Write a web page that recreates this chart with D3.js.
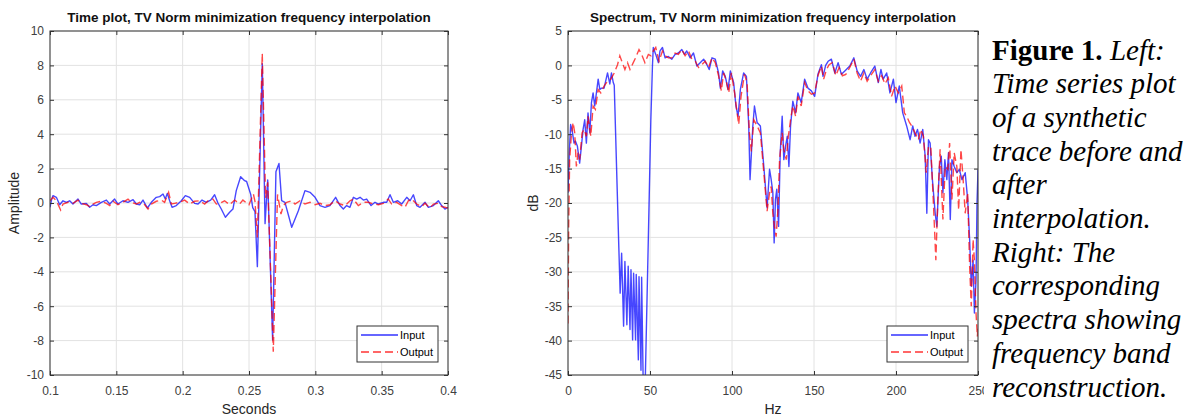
<!DOCTYPE html>
<html>
<head>
<meta charset="utf-8">
<script src="https://cdn.jsdelivr.net/npm/d3@7"></script>
<style>
  body { margin: 0; background: #fff; }
  svg { display: block; }
</style>
</head>
<body>
<svg id="fig" width="1190" height="418"></svg>
<script>
// tick values
const timeTicks = [0.1, 0.15, 0.2, 0.25, 0.3, 0.35, 0.4];
const ampTicks = [-10, -8, -6, -4, -2, 0, 2, 4, 6, 8, 10];
const freqTicks = [0, 50, 100, 150, 200, 250];
const dbTicks = [-45, -40, -35, -30, -25, -20, -15, -10, -5, 0, 5];

// time trace, [seconds, amplitude]
const inputTrace = [
  [0.1, -0.25], [0.1012, 0.2], [0.1023, 0.43], [0.1048, 0.33], [0.1073, -0.1], [0.1098, 0.13],
  [0.1123, 0.04], [0.1148, 0.13], [0.1173, -0.06], [0.1211, 0.23], [0.1236, -0.06], [0.1274, -0.02],
  [0.1299, -0.25], [0.1324, -0.1], [0.1349, -0.15], [0.1387, 0.04], [0.1425, 0.17], [0.145, -0.06],
  [0.1487, 0.23], [0.1512, -0.06], [0.155, 0.13], [0.1588, 0.04], [0.1626, 0.19], [0.1651, -0.06],
  [0.1676, -0.1], [0.1701, 0.17], [0.1734, -0.29], [0.1764, 0.04], [0.1801, 0.33], [0.1827, 0.37],
  [0.1852, 0.52], [0.1869, 0.23], [0.1884, 0.56], [0.1902, 0.13], [0.192, -0.25], [0.1952, -0.15],
  [0.199, 0.13], [0.202, 0.43], [0.2053, 0.33], [0.209, -0.02], [0.2116, -0.06], [0.2146, 0.17],
  [0.2178, 0.04], [0.2211, 0.17], [0.2241, 0.48], [0.2266, 0.0], [0.2291, -0.35], [0.2322, -0.83],
  [0.2354, -0.54], [0.2379, -0.35], [0.2404, 0.72], [0.2437, 1.53], [0.2467, 1.3], [0.2482, 1.25],
  [0.2513, 0.5], [0.2528, -0.27], [0.2545, -0.5], [0.2563, -3.7], [0.26, 8.1], [0.2621, -1.2],
  [0.2641, 1.34], [0.2678, -7.97], [0.2703, 1.82], [0.2726, 2.3], [0.2746, 0.14], [0.2771, 0.04],
  [0.2822, -1.41], [0.2872, -0.45], [0.2922, 0.72], [0.296, 0.62], [0.2998, 0.33], [0.3035, -0.15],
  [0.3073, -0.25], [0.311, -0.15], [0.3153, 0.33], [0.3186, -0.15], [0.3211, -0.35], [0.3236, -0.15],
  [0.3261, -0.25], [0.3287, 0.33], [0.3312, 0.23], [0.3337, 0.33], [0.3362, 0.17], [0.3387, 0.23],
  [0.342, -0.15], [0.345, 0.04], [0.3475, -0.06], [0.3513, 0.04], [0.3538, 0.04], [0.3563, 0.48],
  [0.3588, 0.04], [0.3621, 0.13], [0.3651, -0.06], [0.3689, 0.33], [0.3714, 0.13], [0.3739, 0.48],
  [0.3764, -0.15], [0.3789, -0.25], [0.3827, 0.04], [0.3852, -0.25], [0.389, -0.15], [0.3927, 0.13],
  [0.3952, -0.15], [0.3977, -0.35], [0.4, -0.25]
];

const outputTrace = [
  [0.1, 0.13], [0.1023, 0.33], [0.1048, 0.13], [0.108, -0.41], [0.1098, -0.06], [0.1136, 0.04],
  [0.1173, -0.02], [0.1211, 0.17], [0.1236, -0.02], [0.1274, -0.1], [0.1299, -0.21], [0.1324, -0.06],
  [0.1349, 0.04], [0.1387, 0.1], [0.1425, -0.02], [0.145, -0.15], [0.1475, 0.1], [0.1512, -0.1],
  [0.155, 0.04], [0.1588, 0.23], [0.1613, 0.04], [0.1651, -0.06], [0.1676, 0.04], [0.1714, -0.1],
  [0.1739, -0.35], [0.1764, -0.06], [0.1801, 0.1], [0.1839, 0.17], [0.1864, 0.04], [0.1894, 0.62],
  [0.1915, -0.06], [0.194, -0.02], [0.1977, 0.04], [0.2015, 0.17], [0.2053, -0.06], [0.209, 0.1],
  [0.2128, 0.13], [0.2166, -0.06], [0.2191, 0.13], [0.2228, 0.23], [0.2254, -0.06], [0.2279, -0.02],
  [0.2316, 0.13], [0.2354, -0.1], [0.2392, 0.17], [0.2429, -0.06], [0.2454, 0.17], [0.2492, -0.06],
  [0.25, -0.1], [0.2533, 0.52], [0.2545, 0.1], [0.2563, -2.0], [0.26, 8.7], [0.2625, 0.3],
  [0.2641, 1.2], [0.2683, -8.65], [0.2715, 0.5], [0.2741, -0.64], [0.2759, -0.15], [0.2784, 0.04],
  [0.2822, 0.13], [0.2847, -0.06], [0.2884, 0.13], [0.2922, -0.06], [0.296, 0.04], [0.2998, -0.1],
  [0.3035, -0.02], [0.3073, -0.15], [0.311, -0.1], [0.3148, 0.13], [0.3186, -0.06], [0.3224, -0.15],
  [0.3261, 0.13], [0.3287, 0.23], [0.3324, -0.15], [0.3362, 0.04], [0.34, 0.04], [0.3437, -0.06],
  [0.3475, -0.1], [0.3513, -0.02], [0.355, 0.23], [0.3575, -0.06], [0.3613, 0.04], [0.3651, -0.15],
  [0.3676, -0.25], [0.3701, 0.13], [0.3726, 0.23], [0.3764, -0.06], [0.3802, -0.21], [0.3827, -0.02],
  [0.3864, -0.29], [0.389, -0.06], [0.3927, -0.02], [0.3952, -0.21], [0.3977, -0.25], [0.4, -0.3]
];

// spectrum, [Hz, dB]
const inputSpectrum = [
  [0, -18.5], [0.8, -12.7], [1.6, -8.6], [2.4, -9.3], [3.7, -11.3], [4.5, -11.0], [5.7, -11.7],
  [7.1, -14.2], [8.2, -11.7], [9.2, -9.3], [10.2, -7.9], [11.2, -11.3], [12.2, -6.9], [13.3, -9.8],
  [14.3, -5.4], [15.3, -4.0], [16.3, -5.9], [18.4, -2.0], [19.4, -3.5], [20.4, -3.3], [22.0, -3.3],
  [24.1, -1.1], [25.5, -2.7], [26.5, -1.1], [27.6, -2.5], [28.2, -2.9], [31.0, -26.5], [31.8, -33.1],
  [32.7, -27.3], [33.9, -37.9], [34.7, -28.5], [35.9, -37.7], [36.7, -29.2], [37.8, -38.4],
  [38.4, -29.7], [39.4, -39.9], [40.0, -30.2], [41.2, -39.9], [41.6, -30.4], [42.9, -42.8],
  [43.3, -30.7], [44.5, -44.3], [44.9, -30.8], [45.9, -47], [47.0, -47], [49.0, -25], [50.5, -8],
  [51.5, 0], [52.0, 2.6], [53.5, 1.6], [55.1, 0.4], [56.1, 2.1], [57.6, 2.6], [59.2, 1.1],
  [61.2, 1.3], [63.3, 0.9], [65.3, 1.6], [67.3, 1.8], [69.4, 2.3], [71.0, 1.6], [72.4, 2.1],
  [74.5, 1.1], [76.5, 1.8], [78.6, -0.1], [80.6, 0.4], [82.7, 0.9], [84.7, 0.1], [86.1, -0.6],
  [87.8, 1.1], [89.8, 0.9], [91.8, -1.1], [92.9, -3.3], [94.3, -0.8], [95.9, -1.6], [97.6, -3.5],
  [99.0, -0.8], [101.0, -2.5], [102.4, -5.9], [103.7, -7.4], [105.1, -3.5], [107.1, -1.1],
  [108.8, -1.6], [110.2, -8.8], [111.0, -16.6], [112.7, -8.8], [113.7, -5.9], [115.3, -8.3],
  [117.3, -8.8], [119.4, -14.7], [121.4, -20.7], [122.9, -15.1], [123.9, -16.6], [124.9, -18.5],
  [125.7, -25.8], [126.5, -19.5], [127.3, -18.0], [128.4, -23.4], [129.4, -12.7], [130.6, -7.4],
  [131.6, -13.7], [132.7, -11.7], [133.7, -10.3], [134.7, -14.7], [135.7, -8.8], [137.1, -5.2],
  [138.8, -6.9], [140.2, -4.0], [142.2, -5.4], [144.3, -2.0], [146.3, -3.3], [148.4, -3.7],
  [150.4, -4.5], [152.4, -1.3], [154.5, 0.1], [155.5, -1.6], [157.1, 0.0], [158.6, 0.6],
  [160.6, 0.9], [162.7, -1.1], [164.7, 0.4], [166.7, -1.3], [168.8, -0.8], [171.8, -0.1],
  [174.3, 1.1], [176.3, -0.8], [178.4, -1.6], [180.4, -0.6], [182.4, -2.0], [184.5, -1.1],
  [187.1, -0.1], [189.2, -2.5], [190.8, -0.6], [192.2, -2.0], [194.3, -1.1], [196.3, -4.0],
  [198.4, -2.0], [200.0, -5.4], [202.0, -3.0], [204.1, -6.9], [206.5, -8.8], [208.6, -10.8],
  [210.2, -8.8], [211.6, -10.3], [213.1, -9.3], [214.7, -11.3], [216.3, -9.3], [217.8, -13.2],
  [218.8, -21.5], [219.8, -10.8], [220.8, -11.3], [222.2, -16.6], [223.9, -21.5], [224.9, -23.4],
  [226.5, -14.7], [227.6, -13.2], [228.6, -18.5], [229.8, -13.7], [231.0, -16.6], [232.0, -12.7],
  [233.1, -22.4], [234.1, -13.7], [235.5, -14.7], [237.1, -15.6], [238.6, -15.1], [240.2, -16.6],
  [242.2, -15.6], [243.7, -19.5], [244.9, -25.3], [245.9, -32.1], [247.0, -28.3], [247.8, -36.0],
  [248.8, -31.2], [249.4, -20], [250, -15.2]
];

const outputSpectrum = [
  [0, -37.5], [0.4, -23.4], [1.0, -13.7], [2.0, -10.3], [3.1, -8.3], [4.1, -9.8], [5.1, -14.7],
  [6.1, -12.7], [7.1, -13.7], [8.6, -9.8], [9.8, -9.3], [11.2, -10.3], [12.2, -7.4], [13.9, -10.3],
  [15.3, -5.9], [16.7, -6.4], [18.4, -3.5], [20.0, -4.0], [22.0, -3.0], [24.1, -2.3], [26.1, -2.0],
  [28.2, -1.1], [30.2, 0.1], [31.6, 1.4], [33.1, 0.4], [34.7, -0.6], [36.3, 0.4], [37.8, -0.6],
  [39.8, 0.4], [41.2, 1.1], [43.3, 2.3], [44.9, 1.6], [46.9, 0.4], [49.0, 1.6], [50.6, 1.4],
  [52.0, 2.1], [53.5, 2.6], [55.5, 0.6], [57.6, 2.1], [59.2, 1.4], [61.2, 1.1], [63.3, 1.1],
  [65.3, 1.8], [67.3, 1.6], [69.4, 2.3], [71.4, 1.4], [73.5, 2.1], [75.5, 0.9], [77.6, 0.6],
  [79.6, -0.3], [81.6, 0.1], [83.7, 0.6], [85.7, -0.3], [87.8, 1.1], [89.8, 0.4], [91.8, -1.5],
  [93.5, -3.7], [94.9, -1.1], [96.5, -2.3], [98.0, -4.0], [99.6, -1.1], [101.6, -4.0], [103.1, -6.9],
  [104.1, -8.6], [105.5, -4.5], [107.6, -1.3], [109.2, -2.5], [110.6, -9.8], [111.8, -12.5],
  [113.3, -7.9], [115.3, -8.8], [117.3, -9.8], [119.4, -15.6], [121.4, -21.2], [122.9, -18.5],
  [123.9, -17.6], [124.9, -21.5], [125.9, -23.4], [126.9, -24.9], [128.0, -21.0], [129.0, -13.7],
  [130.6, -9.8], [131.6, -12.2], [133.1, -13.7], [134.1, -10.8], [135.7, -7.9], [137.1, -5.9],
  [138.8, -7.4], [140.2, -4.5], [142.2, -5.9], [144.3, -2.5], [146.3, -3.7], [148.4, -4.2],
  [150.4, -4.0], [152.4, -1.5], [154.5, -0.1], [155.9, -2.0], [157.6, -0.6], [159.2, 0.1],
  [161.2, 0.4], [163.3, -1.5], [165.3, -0.3], [167.3, -1.5], [169.4, -1.3], [171.8, -0.3],
  [174.3, 0.9], [176.3, -1.1], [178.4, -2.3], [180.4, -1.1], [182.4, -2.3], [184.5, -1.5],
  [187.1, -0.6], [189.2, -2.3], [191.2, -1.5], [193.3, -2.7], [195.3, -1.8], [197.3, -4.5],
  [199.4, -3.0], [201.4, -4.0], [203.5, -3.0], [205.1, -6.9], [206.5, -7.4], [208.2, -8.3],
  [209.6, -8.8], [211.6, -9.8], [213.7, -10.8], [215.1, -9.3], [216.7, -10.3], [218.4, -15.6],
  [219.8, -11.8], [221.2, -11.8], [222.9, -20.5], [224.3, -28.3], [225.5, -19.5], [226.9, -12.2],
  [228.6, -22.4], [230.0, -14.7], [231.6, -15.1], [232.7, -11.3], [234.1, -19.5], [235.5, -12.7],
  [237.1, -14.7], [238.2, -21.0], [239.6, -12.2], [240.8, -16.1], [242.2, -21.5], [243.7, -18.5],
  [244.9, -29.2], [245.9, -35.0], [247.0, -25.3], [247.8, -28.3], [248.8, -36.0], [249.6, -39.4],
  [250, -38]
];

const seriesNames = ['Input', 'Output'];
const captionLines = [
  [['Figure 1.', 'bold'], [' Left:', 'italic']],
  [['Time series plot', 'italic']],
  [['of a synthetic', 'italic']],
  [['trace before and', 'italic']],
  [['after', 'italic']],
  [['interpolation.', 'italic']],
  [['Right: The', 'italic']],
  [['corresponding', 'italic']],
  [['spectra showing', 'italic']],
  [['frequency band', 'italic']],
  [['reconstruction.', 'italic']]
];

const sans = '"Liberation Sans", Arial, Helvetica, sans-serif';
const axisColor = '#333333';
const gridColor = '#e2e2e2';

const svg = d3.select('#fig');

function drawPanel(cfg, idx) {
  const x = d3.scaleLinear().domain(cfg.xDomain).range([cfg.left, cfg.right]);
  const y = d3.scaleLinear().domain(cfg.yDomain).range([cfg.bottom, cfg.top]);
  const g = svg.append('g');

  // grid
  g.append('g').selectAll('line').data(cfg.xTicks).join('line')
    .attr('x1', (d) => x(d)).attr('x2', (d) => x(d))
    .attr('y1', cfg.top).attr('y2', cfg.bottom)
    .attr('stroke', gridColor).attr('stroke-width', 1);
  g.append('g').selectAll('line').data(cfg.yTicks).join('line')
    .attr('y1', (d) => y(d)).attr('y2', (d) => y(d))
    .attr('x1', cfg.left).attr('x2', cfg.right)
    .attr('stroke', gridColor).attr('stroke-width', 1);

  // traces
  const clipId = 'clip' + idx;
  svg.append('clipPath').attr('id', clipId)
    .append('rect')
    .attr('x', cfg.left).attr('y', cfg.top)
    .attr('width', cfg.right - cfg.left).attr('height', cfg.bottom - cfg.top);

  const line = d3.line().x((d) => x(d[0])).y((d) => y(d[1]));
  const plot = g.append('g').attr('clip-path', `url(#${clipId})`);

  plot.append('path')
    .datum(cfg.input)
    .attr('d', line)
    .attr('fill', 'none')
    .attr('stroke', '#0000ff')
    .attr('stroke-opacity', 0.72)
    .attr('stroke-width', 1.4)
    .attr('stroke-linejoin', 'round');

  plot.append('path')
    .datum(cfg.output)
    .attr('d', line)
    .attr('fill', 'none')
    .attr('stroke', '#ff0000')
    .attr('stroke-opacity', 0.72)
    .attr('stroke-width', 1.4)
    .attr('stroke-dasharray', '8,4');

  // axes, ticks on all four sides pointing in
  const fmt = (d) => String(d);
  const styleAxis = (a) => {
    a.select('.domain').remove();
    a.selectAll('.tick line').attr('stroke', axisColor);
    a.selectAll('.tick text')
      .attr('fill', '#404040')
      .style('font-family', sans)
      .style('font-size', '12px');
  };
  g.append('g')
    .attr('transform', `translate(0,${cfg.bottom})`)
    .call(d3.axisBottom(x).tickValues(cfg.xTicks).tickFormat(fmt).tickSizeInner(-4).tickSizeOuter(0).tickPadding(11))
    .call(styleAxis);
  g.append('g')
    .attr('transform', `translate(0,${cfg.top})`)
    .call(d3.axisTop(x).tickValues(cfg.xTicks).tickFormat('').tickSizeInner(-4).tickSizeOuter(0))
    .call(styleAxis);
  g.append('g')
    .attr('transform', `translate(${cfg.left},0)`)
    .call(d3.axisLeft(y).tickValues(cfg.yTicks).tickFormat(fmt).tickSizeInner(-4).tickSizeOuter(0).tickPadding(6))
    .call(styleAxis);
  g.append('g')
    .attr('transform', `translate(${cfg.right},0)`)
    .call(d3.axisRight(y).tickValues(cfg.yTicks).tickFormat('').tickSizeInner(-4).tickSizeOuter(0))
    .call(styleAxis);

  g.append('rect')
    .attr('x', cfg.left).attr('y', cfg.top)
    .attr('width', cfg.right - cfg.left).attr('height', cfg.bottom - cfg.top)
    .attr('fill', 'none').attr('stroke', axisColor).attr('stroke-width', 1);

  // labels
  const cx = (cfg.left + cfg.right) / 2;
  const cy = (cfg.top + cfg.bottom) / 2;
  g.append('text')
    .attr('x', cx).attr('y', 22)
    .attr('text-anchor', 'middle')
    .style('font-family', sans).style('font-size', '13.5px').style('font-weight', 'bold')
    .attr('fill', '#111')
    .text(cfg.title);
  g.append('text')
    .attr('x', cx).attr('y', 414)
    .attr('text-anchor', 'middle')
    .style('font-family', sans).style('font-size', '14px')
    .attr('fill', '#262626')
    .text(cfg.xLabel);
  g.append('text')
    .attr('transform', `translate(${cfg.yLabelX},${cy}) rotate(-90)`)
    .attr('text-anchor', 'middle')
    .style('font-family', sans).style('font-size', '14px')
    .attr('fill', '#262626')
    .text(cfg.yLabel);

  // legend
  const lw = 81, lh = 36;
  const lx = cfg.right - 10 - lw, ly = cfg.bottom - 13 - lh;
  const leg = g.append('g').attr('transform', `translate(${lx},${ly})`);
  leg.append('rect')
    .attr('width', lw).attr('height', lh)
    .attr('fill', '#fff').attr('stroke', axisColor).attr('stroke-width', 1);
  const rows = leg.selectAll('g.row').data(seriesNames).join('g')
    .attr('class', 'row')
    .attr('transform', (d, i) => `translate(0,${9 + i * 17})`);
  rows.append('line')
    .attr('x1', 4).attr('x2', 41)
    .attr('stroke', (d, i) => (i === 0 ? '#0000ff' : '#ff0000'))
    .attr('stroke-opacity', 0.8)
    .attr('stroke-width', 1.4)
    .attr('stroke-dasharray', (d, i) => (i === 0 ? null : '8,4'));
  rows.append('text')
    .attr('x', 43).attr('y', 4)
    .style('font-family', sans).style('font-size', '11px')
    .attr('fill', '#000')
    .text((d) => d);
}

drawPanel({
  left: 50, right: 448, top: 31, bottom: 375, yLabelX: 19,
  xDomain: [0.1, 0.4], yDomain: [-10, 10],
  xTicks: timeTicks, yTicks: ampTicks,
  input: inputTrace, output: outputTrace,
  title: 'Time plot, TV Norm minimization frequency interpolation',
  xLabel: 'Seconds', yLabel: 'Amplitude'
}, 0);

drawPanel({
  left: 568, right: 978, top: 31, bottom: 375, yLabelX: 538,
  xDomain: [0, 250], yDomain: [-45, 5],
  xTicks: freqTicks, yTicks: dbTicks,
  input: inputSpectrum, output: outputSpectrum,
  title: 'Spectrum, TV Norm minimization frequency interpolation',
  xLabel: 'Hz', yLabel: 'dB'
}, 1);

// caption block sits over the right edge of the spectrum's tick labels
svg.append('rect')
  .attr('x', 984).attr('y', 0)
  .attr('width', 206).attr('height', 418)
  .attr('fill', '#fff');

const caption = svg.append('g');
captionLines.forEach((parts, i) => {
  const t = caption.append('text')
    .attr('x', 992).attr('y', 59.5 + i * 33.7)
    .style('font-family', '"Liberation Serif", "Times New Roman", serif')
    .style('font-size', '29px')
    .attr('fill', '#000');
  parts.forEach(([txt, kind]) => {
    t.append('tspan')
      .style('font-weight', kind === 'bold' ? 'bold' : 'normal')
      .style('font-style', kind === 'italic' ? 'italic' : 'normal')
      .attr('xml:space', 'preserve')
      .text(txt);
  });
});
</script>
</body>
</html>
